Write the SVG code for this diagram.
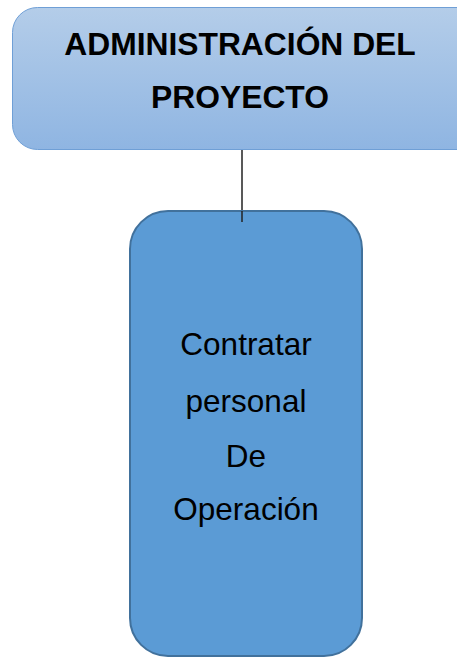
<svg xmlns="http://www.w3.org/2000/svg" width="457" height="658" viewBox="0 0 457 658">
<defs>
<linearGradient id="g1" x1="0" y1="0" x2="0" y2="1">
<stop offset="0" stop-color="#b4cde9"/>
<stop offset="1" stop-color="#8fb5e2"/>
</linearGradient>
</defs>
<style>
.t{font-family:"Liberation Sans",Arial,sans-serif;fill:#000;text-anchor:middle}
.b{font-weight:bold;font-size:31.8px}
.r{font-size:31.5px}
</style>
<rect width="457" height="658" fill="#fff"/>
<g id="connectors">
<line x1="242" y1="150" x2="242" y2="222" stroke="#222" stroke-width="1.5"/>
</g>
<g id="admin">
<rect x="12.5" y="7.5" width="470" height="142" rx="25" fill="url(#g1)" stroke="#6f9fd6" stroke-width="1"/>
<text class="t b" x="240" y="55">ADMINISTRACIÓN DEL</text>
<text class="t b" x="240" y="108">PROYECTO</text>
</g>
<g id="contratar">
<rect x="130" y="211" width="232" height="445" rx="38" fill="#5b9bd5" stroke="#41719c" stroke-width="2"/>
<text class="t r" x="246" y="355">Contratar</text>
<text class="t r" x="246" y="412">personal</text>
<text class="t r" x="246" y="467">De</text>
<text class="t r" x="246" y="520">Operación</text>
</g>
<line x1="242" y1="211" x2="242" y2="222" stroke="#222" stroke-width="1.5"/>
</svg>
